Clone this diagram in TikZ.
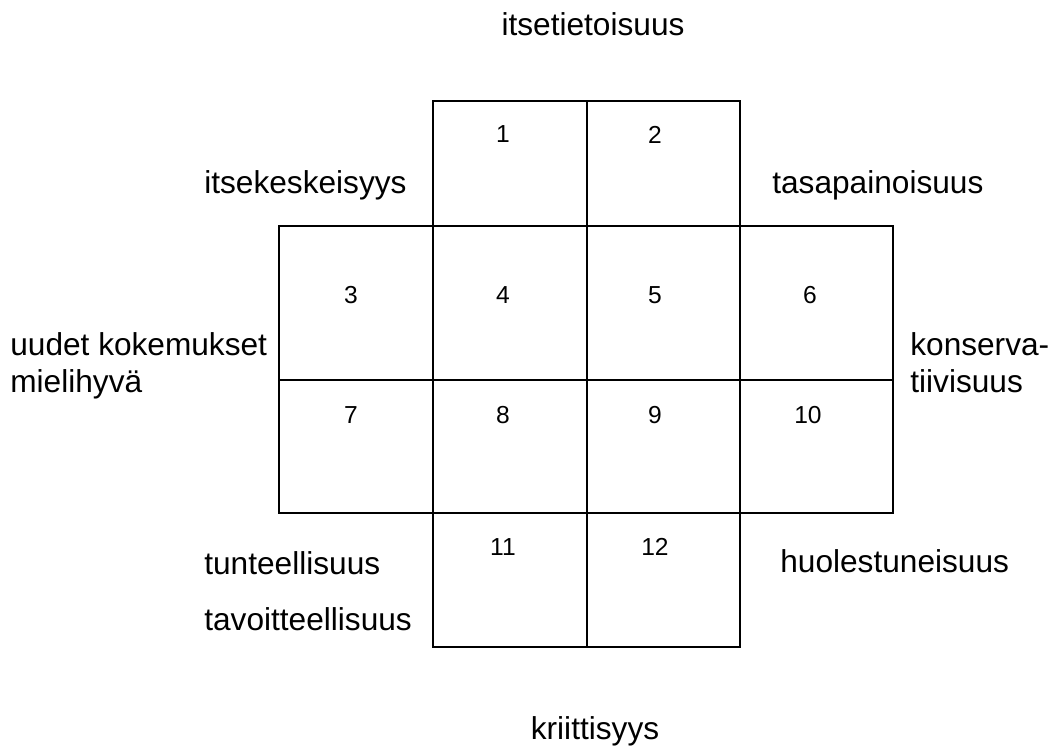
\documentclass[tikz,border=0pt]{standalone}
\usepackage{fontspec}
\setmainfont{Liberation Sans}
\usetikzlibrary{positioning}

\begin{document}
\begin{tikzpicture}[x=0.2mm,y=-0.2mm,
  cell/.style={draw,line width=1.1pt,inner sep=0pt,outer sep=0pt},
  num/.style={font=\fontsize{14}{16}\selectfont,inner sep=0pt},
  lbl/.style={font=\fontsize{18}{21}\selectfont,align=left,inner sep=0pt,anchor=base west}]
\useasboundingbox (0,0) rectangle (1060,751);
% cells
\node[cell,minimum width=30.8mm,minimum height=25mm] (c1) at (510,163.5) {};
\node[cell,minimum width=30.6mm,minimum height=25mm] (c2) at (663.5,163.5) {};
\node[cell,minimum width=30.8mm,minimum height=30.8mm] (c3) at (356,303) {};
\node[cell,minimum width=30.8mm,minimum height=30.8mm] (c4) at (510,303) {};
\node[cell,minimum width=30.6mm,minimum height=30.8mm] (c5) at (663.5,303) {};
\node[cell,minimum width=30.6mm,minimum height=30.8mm] (c6) at (816.5,303) {};
\node[cell,minimum width=30.8mm,minimum height=26.6mm] (c7) at (356,446.5) {};
\node[cell,minimum width=30.8mm,minimum height=26.6mm] (c8) at (510,446.5) {};
\node[cell,minimum width=30.6mm,minimum height=26.6mm] (c9) at (663.5,446.5) {};
\node[cell,minimum width=30.6mm,minimum height=26.6mm] (c10) at (816.5,446.5) {};
\node[cell,minimum width=30.8mm,minimum height=26.8mm] (c11) at (510,580) {};
\node[cell,minimum width=30.6mm,minimum height=26.8mm] (c12) at (663.5,580) {};
% numbers
\node[num] (n1) at (503,134.5) {1};
\node[num] (n2) at (655,134.5) {2};
\node[num] (n3) at (351,295) {3};
\node[num] (n4) at (503,295) {4};
\node[num] (n5) at (655,295) {5};
\node[num] (n6) at (810,295) {6};
\node[num] (n7) at (351,415.5) {7};
\node[num] (n8) at (503,415.5) {8};
\node[num] (n9) at (655,415.5) {9};
\node[num] (n10) at (808,415.5) {10};
\node[num] (n11) at (503,547) {11};
\node[num] (n12) at (655,547) {12};
% labels
\node[lbl,anchor=base] (top) at (593,35) {itsetietoisuus};
\node[lbl] (ego) at (204,193) {itsekeskeisyys};
\node[lbl] (bal) at (772,193) {tasapainoisuus};
\node[lbl] (new) at (10,392) {uudet kokemukset\\mielihyvä};
\node[lbl] (cons) at (910,392) {konserva-\\tiivisuus};
\node[lbl] (emo) at (204,574) {tunteellisuus};
\node[lbl] (goal) at (204,630) {tavoitteellisuus};
\node[lbl] (worry) at (780,572) {huolestuneisuus};
\node[lbl,anchor=base] (crit) at (595,739) {kriittisyys};
\end{tikzpicture}
\end{document}
